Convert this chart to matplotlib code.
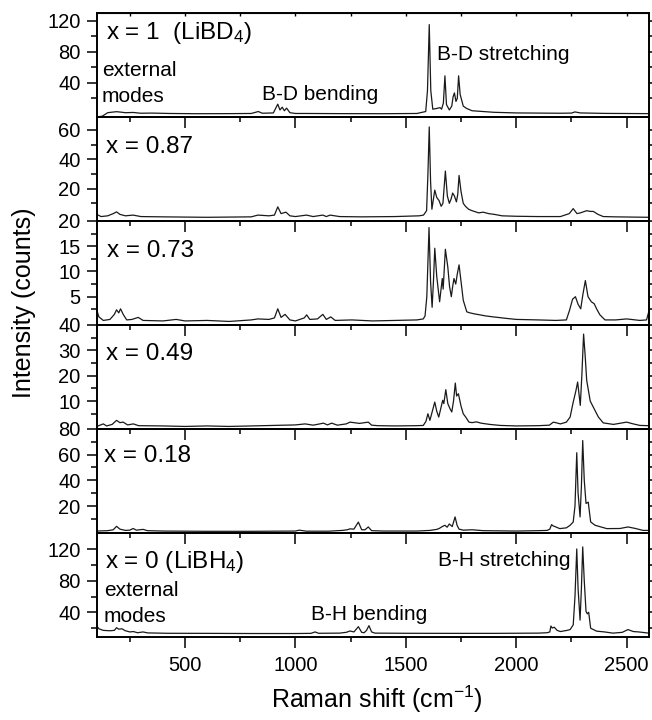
import matplotlib
matplotlib.use("Agg")
import matplotlib.pyplot as plt

plt.rcParams['font.family'] = ['Liberation Sans', 'DejaVu Sans']
plt.rcParams['mathtext.fontset'] = 'custom'
plt.rcParams['mathtext.rm'] = 'Liberation Sans'
plt.rcParams['mathtext.it'] = 'Liberation Sans:italic'

# Raman spectra (shift in cm-1, intensity in counts)
shift_x100 = [100, 125, 150, 170, 190, 210, 230, 265, 300, 350, 430, 550, 700, 800, 832, 850,
              900, 920, 930, 940, 950, 960, 975, 1000, 1050, 1200, 1400, 1550, 1590, 1598, 1606,
              1613, 1622, 1640, 1655, 1662, 1670, 1677, 1684, 1697, 1708, 1714, 1720, 1727, 1733,
              1739, 1746, 1760, 1775, 1800, 1850, 1900, 2000, 2200, 2250, 2266, 2290, 2400, 2600]
counts_x100 = [-4, -3, 1.5, 2.2, 2.8, 2.2, 1.5, 1.8, 0.8, 1.0, 0.5, 0.2, 0.3, 0.5, 3, 0.8,
               1.2, 12.5, 5, 8.6, 4, 7.4, 1.5, 0.5, 0.5, 0.3, 0.2, 0.5, 3, 30, 115,
               30, 6, 7, 8, 6, 14, 49, 12, 5, 10, 22, 27, 16, 20,
               49, 25, 10, 7, 4, 3, 2, 1.2, 0.8, 1.0, 2.5, 1.2, 0.6, 0.3]

shift_x087 = [100, 120, 150, 175, 190, 205, 230, 265, 300, 400, 600, 800, 830, 880, 905, 920,
              935, 957, 975, 1000, 1050, 1080, 1124, 1140, 1157, 1200, 1300, 1450, 1560, 1580,
              1594, 1600, 1606, 1612, 1618, 1624, 1631, 1640, 1650, 1660, 1668, 1679, 1688,
              1697, 1705, 1712, 1720, 1729, 1735, 1741, 1750, 1760, 1770, 1784, 1800, 1830,
              1850, 1875, 1900, 1936, 2000, 2100, 2200, 2240, 2258, 2275, 2290, 2319, 2335,
              2349, 2370, 2394, 2450, 2600]
counts_x087 = [2.5, 1, 1.5, 3, 4.2, 2.5, 1.5, 2, 1, 0.8, 0.5, 0.8, 2, 1.5, 2, 7.6,
               3, 4, 1.5, 1, 2, 1, 2, 1, 2, 1, 0.8, 1, 1.5, 2,
               5, 30, 62, 25, 6, 12, 19, 14, 12, 8, 10, 32, 15,
               10, 13, 17, 15, 11, 16, 29, 18, 10, 8, 6, 5, 3.5,
               4, 3, 2.5, 1.5, 1.2, 1, 1, 3, 6.4, 3, 3.5, 5, 4.5,
               4.5, 2.5, 1, 0.8, 0.5]

shift_x073 = [100, 110, 130, 160, 180, 190, 200, 208, 220, 236, 260, 288, 310, 400, 460, 500,
              600, 700, 800, 830, 880, 905, 920, 935, 953, 975, 1000, 1040, 1051, 1065, 1100,
              1124, 1140, 1160, 1180, 1255, 1350, 1450, 1550, 1579, 1587, 1595, 1605, 1612,
              1619, 1625, 1631, 1640, 1653, 1665, 1669, 1679, 1690, 1698, 1706, 1712, 1718,
              1726, 1733, 1741, 1750, 1760, 1776, 1790, 1810, 1836, 1860, 1896, 1956, 2000,
              2100, 2180, 2227, 2242, 2255, 2268, 2280, 2292, 2302, 2313, 2325, 2340, 2353,
              2365, 2379, 2402, 2450, 2500, 2560, 2590, 2600]
counts_x073 = [2.4, 1.0, 0.3, 0.5, 1.5, 2.4, 1.8, 2.6, 1.5, 0.4, 0.5, 0.9, 0.3, 0.2, 0.5, 0.2,
               0.3, 0.1, 0.4, 0.6, 0.5, 0.8, 2.6, 0.9, 1.5, 0.4, 0.2, 0.8, 1.4, 0.5, 0.6,
               1.5, 0.5, 1.0, 0.3, 0.4, 0.2, 0.3, 0.4, 0.6, 1.2, 5, 18.7, 8,
               2.9, 8, 14.6, 9, 4, 8.6, 6.5, 14.4, 10.9, 7, 5, 7, 8.6,
               7.5, 9.5, 11.3, 8, 4.3, 2.0, 1.8, 1.6, 1.4, 1.2, 1.0, 0.7, 0.5,
               0.4, 0.3, 0.4, 2.4, 4.5, 5.0, 3.5, 2.6, 5.5, 8.2, 5, 4, 3.6,
               2.5, 1.4, 0.4, 0.4, 0.6, 0.3, 0.4, 2]

shift_x049 = [100, 115, 130, 145, 170, 190, 205, 220, 240, 266, 290, 400, 500, 600, 700, 800,
              900, 1000, 1044, 1080, 1110, 1127, 1145, 1164, 1190, 1230, 1247, 1290, 1330,
              1345, 1373, 1450, 1550, 1579, 1591, 1600, 1609, 1620, 1631, 1640, 1649, 1658,
              1667, 1672, 1681, 1690, 1700, 1708, 1716, 1724, 1730, 1738, 1750, 1760, 1771,
              1786, 1800, 1820, 1840, 1880, 1927, 2000, 2100, 2150, 2168, 2183, 2200, 2227,
              2244, 2258, 2270, 2278, 2290, 2297, 2305, 2312, 2319, 2335, 2349, 2372, 2394,
              2440, 2480, 2500, 2530, 2560, 2600]
counts_x049 = [0, 0.5, 1.0, 0.2, 0.8, 2.4, 1.5, 1.7, 0.6, 1.0, 0.3, 0.2, 0, 0.2, 0, 0.2,
               0.4, 0.6, 1.0, 0.5, 1.0, 1.3, 0.6, 1.3, 0.5, 1.0, 1.7, 1.2, 1.7,
               0.5, 0.3, 0.2, 0.3, 0.4, 2, 5, 2.4, 6, 9.6, 6, 3.7, 7,
               10.3, 9, 14.5, 9, 7, 5.7, 10, 17.1, 12, 12.9, 8, 5, 3.7,
               1.7, 1.5, 1.8, 1.3, 0.8, 0.4, 0.2, 0.3, 0.5, 1.7, 1.4, 1.0, 1.7,
               3.7, 9.6, 14, 17.5, 8.3, 20, 36.4, 28, 18.2, 10, 7.6, 3.7, 1.4,
               0.8, 1.4, 1.7, 1.0, 0.4, 0.3]

shift_x018 = [100, 150, 175, 190, 205, 230, 250, 265, 280, 310, 330, 400, 600, 800, 1000, 1017,
              1050, 1150, 1213, 1235, 1247, 1265, 1285, 1300, 1315, 1330, 1345, 1400, 1550,
              1609, 1640, 1651, 1665, 1677, 1687, 1697, 1710, 1723, 1732, 1741, 1760, 1800,
              1850, 2000, 2100, 2140, 2152, 2160, 2167, 2175, 2197, 2227, 2244, 2258, 2266,
              2274, 2280, 2289, 2295, 2301, 2308, 2316, 2326, 2337, 2357, 2410, 2470, 2506,
              2540, 2574, 2600]
counts_x018 = [0.5, 0.8, 1.5, 4.2, 2, 1, 1.2, 2.5, 1.2, 1.8, 0.8, 0.5, 0.3, 0.3, 0.5, 1.2,
               0.4, 0.4, 1.0, 1.5, 2.2, 2, 7.5, 1.5, 1.5, 3.7, 0.8, 0.5, 0.5,
               1, 1.8, 2.5, 4, 5, 3.5, 6, 4, 11.5, 5, 2, 1.2, 1.5,
               0.8, 0.5, 0.8, 1, 2, 5.5, 4.5, 4, 2.4, 3, 5, 7.6, 20,
               61.5, 30, 11.5, 35, 71, 40, 22, 23, 7.6, 5, 2.4, 2.5, 3.7,
               2.5, 1, 1]

shift_x0 = [100, 110, 130, 160, 180, 190, 200, 215, 228, 250, 266, 285, 310, 330, 418, 600,
            800, 1000, 1070, 1089, 1105, 1200, 1230, 1247, 1265, 1285, 1300, 1311, 1322, 1333,
            1345, 1360, 1500, 1700, 1900, 2100, 2140, 2152, 2157, 2163, 2172, 2185, 2200, 2230,
            2244, 2258, 2266, 2274, 2280, 2289, 2295, 2301, 2308, 2316, 2322, 2328, 2337, 2364,
            2400, 2438, 2480, 2506, 2530, 2555, 2600]
counts_x0 = [23, 19, 17, 16.5, 17, 20.4, 18.5, 19, 16.7, 15, 15.5, 14, 15, 13.8, 13.3, 13.2,
             13, 13, 13.2, 15, 13.3, 13.5, 14.5, 16.2, 15, 21.7, 14.5, 14, 17, 23,
             15, 13.5, 13.3, 13.2, 13.2, 13.5, 14, 15, 22.5, 20, 21, 17, 15.5, 17,
             18, 24, 60, 120.4, 70, 30, 70, 123, 80, 41, 38, 40, 19.7, 16,
             15, 13.5, 14.5, 18, 15.5, 15, 13.5]

spectra = [(shift_x100, counts_x100), (shift_x087, counts_x087), (shift_x073, counts_x073),
           (shift_x049, counts_x049), (shift_x018, counts_x018), (shift_x0, counts_x0)]

sample_labels = [r"x = 1  (LiBD$_4$)", "x = 0.87", "x = 0.73", "x = 0.49", "x = 0.18",
                 r"x = 0 (LiBH$_4$)"]
y_limits = [(-4, 130), (-2, 68.8), (-0.6, 20), (-1, 40), (-1, 80), (8.6, 140.7)]
y_major = [[40, 80, 120], [20, 40, 60], [5, 10, 15, 20], [10, 20, 30, 40], [20, 40, 60, 80],
           [40, 80, 120]]
y_minor = [[20, 60, 100], [10, 30, 50], [2.5, 7.5, 12.5, 17.5], [5, 15, 25, 35],
           [10, 30, 50, 70], [20, 60, 100]]
label_pos = [(0.017, 0.747), (0.017, 0.651), (0.018, 0.657), (0.017, 0.663), (0.013, 0.686),
             (0.015, 0.66)]

x_major = [500, 1000, 1500, 2000, 2500]
x_minor = [250, 750, 1250, 1750, 2250]

fig, axes = plt.subplots(6, 1, sharex=True, figsize=(6.52, 7.2), dpi=100)
fig.subplots_adjust(left=0.1483, right=0.995, top=0.982, bottom=0.1153, hspace=0)

for i, ax in enumerate(axes):
    xs, ys = spectra[i]
    ax.plot(xs, ys, color='#1a1a1a', lw=0.9)
    ax.set_xlim(100, 2600)
    ax.set_ylim(*y_limits[i])
    ax.set_yticks(y_major[i])
    ax.set_yticks(y_minor[i], minor=True)
    ax.set_xticks(x_major)
    ax.set_xticks(x_minor, minor=True)
    ax.patch.set_visible(False)
    for sp in ax.spines.values():
        sp.set_linewidth(1.4)
    ax.tick_params(axis='y', which='both', direction='out', right=True, width=1.1,
                   labelsize=14.5, pad=4)
    ax.tick_params(axis='y', which='major', length=7.5)
    ax.tick_params(axis='y', which='minor', length=4.3)
    ax.tick_params(axis='x', which='both', direction='out', width=1.1, labelsize=14.5, pad=6)
    ax.tick_params(axis='x', which='major', length=8)
    ax.tick_params(axis='x', which='minor', length=3.8)
    ax.text(label_pos[i][0], label_pos[i][1], sample_labels[i], transform=ax.transAxes,
            fontsize=17.5, ha='left', va='baseline')

top = axes[0].secondary_xaxis('top')
top.set_xticks(x_major + x_minor)
top.tick_params(direction='in', length=2.5, width=1, labeltop=False)

# mode annotations
axes[0].text(0.009, 0.394, "external", transform=axes[0].transAxes, fontsize=15, va='baseline')
axes[0].text(0.009, 0.147, "modes", transform=axes[0].transAxes, fontsize=15, va='baseline')
axes[0].text(0.299, 0.163, "B-D bending", transform=axes[0].transAxes, fontsize=15, va='baseline')
axes[0].text(0.616, 0.548, "B-D stretching", transform=axes[0].transAxes, fontsize=15,
             va='baseline')
axes[5].text(0.013, 0.394, "external", transform=axes[5].transAxes, fontsize=15, va='baseline')
axes[5].text(0.013, 0.147, "modes", transform=axes[5].transAxes, fontsize=15, va='baseline')
axes[5].text(0.389, 0.163, "B-H bending", transform=axes[5].transAxes, fontsize=15, va='baseline')
axes[5].text(0.618, 0.683, "B-H stretching", transform=axes[5].transAxes, fontsize=15,
             va='baseline')

fig.text(0.037, 0.58, "Intensity (counts)", rotation=90, ha='center', va='center', fontsize=18)
fig.text(0.578, 0.017, r"Raman shift (cm$^{-1}$)", ha='center', va='baseline', fontsize=18)

fig.savefig("out.png", dpi=100)
